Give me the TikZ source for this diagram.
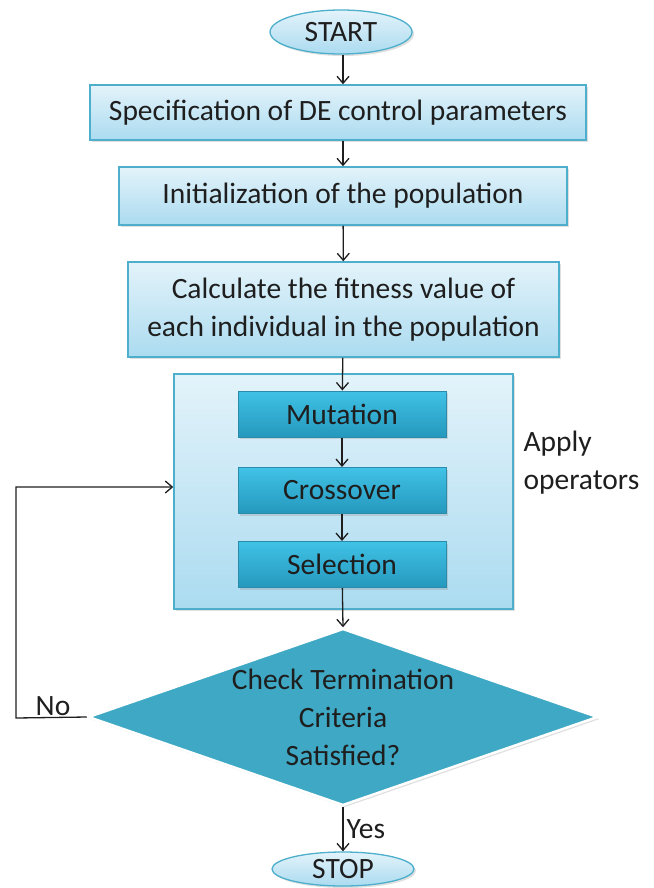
\documentclass[tikz,border=0pt]{standalone}
\usepackage{fontspec}
\setmainfont{Carlito}
\usetikzlibrary{shapes.geometric,arrows.meta,shadows}

\definecolor{boxtop}{HTML}{E3F3FA}
\definecolor{boxbot}{HTML}{ABDBF0}
\definecolor{boxline}{HTML}{4DAFCB}
\definecolor{optop}{HTML}{40C2E6}
\definecolor{opbot}{HTML}{2598BD}
\definecolor{opline}{HTML}{2A8BAA}
\definecolor{decfill}{HTML}{3FA9C5}
\definecolor{ink}{HTML}{1E1E1E}

\begin{document}
\begin{tikzpicture}[x=1pt, y=1pt,
    font=\fontsize{29.5}{38}\selectfont,
    every node/.style={text=ink},
    shade/.style={drop shadow={shadow xshift=2pt, shadow yshift=-2pt, opacity=0.25}},
    terminal/.style={ellipse, draw=boxline, line width=1.3pt, top color=boxtop,
        bottom color=boxbot, minimum width=142pt, inner sep=0, shade},
    flowbox/.style={rectangle, draw=boxline, line width=1.5pt, top color=boxtop,
        bottom color=boxbot, inner sep=0, align=center, shade},
    opbox/.style={rectangle, draw=opline, line width=1pt, top color=optop,
        bottom color=opbot, minimum width=208pt, minimum height=46pt, inner sep=0, shade},
    decision/.style={diamond, draw=white, line width=2.5pt, fill=decfill,
        minimum width=510pt, minimum height=177pt, inner sep=0, shade},
    conn/.style={draw=ink, line width=1.3pt,
        -{Straight Barb[length=7pt, width=12pt, line width=1.3pt]}}]

    \useasboundingbox (0,0) rectangle (653,-888);

    % Start and stop
    \node[terminal, minimum height=44pt] (start) at (341,-32) {START};
    \node[terminal, minimum height=34pt] (stop) at (343,-869) {STOP};

    % Steps
    \node[flowbox, minimum width=496pt, minimum height=55pt]
    (spec) at (338,-112.5) {Specification of DE control parameters};
    \node[flowbox, minimum width=448pt, minimum height=58pt]
    (init) at (343,-196) {Initialization of the population};
    \node[flowbox, minimum width=431pt, minimum height=95pt]
    (fit) at (343.5,-309.5) {Calculate the fitness value of\\each individual in the population};

    % Operators
    \node[flowbox, minimum width=339pt, minimum height=235pt]
    (ops) at (343.5,-491.5) {};
    \node[opbox] (mut) at (342,-414) {Mutation};
    \node[opbox] (cross) at (342,-490.5) {Crossover};
    \node[opbox] (sel) at (342,-564.5) {Selection};
    \node[anchor=west, align=left] (apply) at (520,-463) {Apply\\operators};

    % Decision
    \node[decision, label={[align=center]center:Check Termination\\Criteria\\Satisfied?}]
    (check) at (343,-717) {};
    \coordinate (back) at (16,-718);

    % Flow
    \draw[conn] ([xshift=2pt]start.south) -- ([xshift=5pt]spec.north);
    \draw[conn] ([xshift=5pt]spec.south) -- (init);
    \draw[conn] (init) -- (fit);
    \draw[conn] (fit) -- (mut);
    \draw[conn] (mut) -- (cross);
    \draw[conn] (cross) -- (sel);
    \draw[conn] (sel) -- (check.north);
    \draw[conn] (check) -- node[right, inner sep=3pt] (yes) {Yes} (stop);
    \draw[conn] (check.west) -- (back) |- ([yshift=4.5pt]ops.west);
    \node (no) at (53,-706) {No};

\end{tikzpicture}
\end{document}
